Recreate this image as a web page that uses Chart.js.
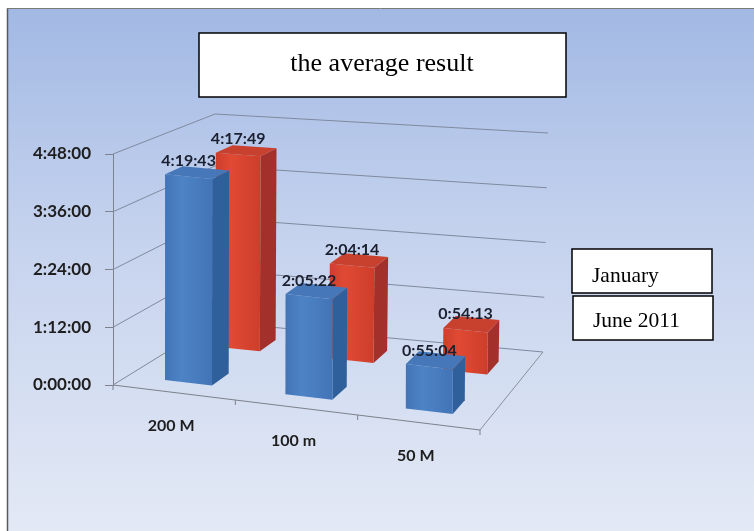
<!DOCTYPE html>
<html>
<head>
<meta charset="utf-8">
<script src="https://cdn.jsdelivr.net/npm/chart.js@4.4.1/dist/chart.umd.min.js"></script>
<style>
  html, body { margin: 0; padding: 0; background: #ffffff; overflow: hidden; }
  canvas { display: block; }
</style>
</head>
<body>
<canvas id="chart" width="754" height="531"></canvas>
<script>
// Swim distances and the average times per session (h:mm:ss)
const distances = ['200 M', '100 m', '50 M'];
const januaryTimes = ['4:19:43', '2:05:22', '0:55:04'];
const juneTimes = ['4:17:49', '2:04:14', '0:54:13'];
const seriesNames = ['January', 'June 2011'];
const chartTitle = 'the average result';
const axisMaxTime = '4:48:00';
const axisStepTime = '1:12:00';

function toSeconds(t) {
  const [h, m, s] = t.split(':').map(Number);
  return h * 3600 + m * 60 + s;
}
function toClock(v) {
  v = Math.round(v);
  const h = Math.floor(v / 3600), m = Math.floor((v % 3600) / 60), s = v % 60;
  return h + ':' + String(m).padStart(2, '0') + ':' + String(s).padStart(2, '0');
}

const januarySeconds = januaryTimes.map(toSeconds);
const juneSeconds = juneTimes.map(toSeconds);

const BOLD = '"Lato", "Open Sans", sans-serif';
const SERIF = '"Liberation Serif", "DejaVu Serif", serif';

// Perspective box: corners expressed relative to the flat chart area.
function boxCorners(a) {
  const L = a.left, R = a.right, T = a.top, B = a.bottom;
  return {
    FL: [L, B],        FLt: [L, T],
    FR: [R, B + 45],   FRt: [R, T + 40],
    BL: [L + 102, B - 63], BLt: [L + 102, T - 40],
    BR: [R + 63, B - 33],  BRt: [R + 68, T - 21]
  };
}
function lerp(p, q, t) { return [p[0] + (q[0] - p[0]) * t, p[1] + (q[1] - p[1]) * t]; }
// u: along categories (0..1), w: depth (0 front .. 1 back), v: value fraction (0..1)
function project(c, u, w, v) {
  const bf = lerp(c.FL, c.FR, u), bb = lerp(c.BL, c.BR, u);
  const tf = lerp(c.FLt, c.FRt, u), tb = lerp(c.BLt, c.BRt, u);
  const b = lerp(bf, bb, w), t = lerp(tf, tb, w);
  return lerp(b, t, v);
}
function poly(ctx, pts, fill) {
  ctx.beginPath();
  ctx.moveTo(pts[0][0], pts[0][1]);
  for (let i = 1; i < pts.length; i++) ctx.lineTo(pts[i][0], pts[i][1]);
  ctx.closePath();
  ctx.fillStyle = fill;
  ctx.fill();
}
function line(ctx, p, q, color, width) {
  ctx.beginPath();
  ctx.moveTo(p[0], p[1]);
  ctx.lineTo(q[0], q[1]);
  ctx.strokeStyle = color;
  ctx.lineWidth = width || 1;
  ctx.stroke();
}

// Row depth and shading of each series inside the box
const rows = [
  { w0: 0.15, w1: 0.33, front: ['#4d84c6', '#4274b6'], side: '#30609c', top: '#4677b8' },   // January
  { w0: 0.665, w1: 0.835, front: ['#e04a34', '#cd3e2a'], side: '#a3302a', top: '#c8402e' }  // June 2011
];

const depthPlugin = {
  id: 'depth3d',
  beforeDraw(chart) {
    const ctx = chart.ctx, W = chart.width, H = chart.height;
    ctx.save();
    ctx.fillStyle = '#ffffff';
    ctx.fillRect(0, 0, W, H);
    const g = ctx.createLinearGradient(0, 9, 0, H);
    g.addColorStop(0, '#a2b9e4');
    g.addColorStop(0.45, '#c6d3ee');
    g.addColorStop(1, '#e3e9f5');
    ctx.fillStyle = g;
    ctx.fillRect(8, 9, W - 8, H - 9);
    line(ctx, [7.5, 8], [7.5, H], '#5a5a5a', 1.5);
    line(ctx, [7, 8.5], [W, 8.5], '#7a7a7a', 1);
    ctx.restore();
  },
  beforeDatasetsDraw(chart) {
    const ctx = chart.ctx, a = chart.chartArea, y = chart.scales.y;
    const c = boxCorners(a);
    const span = a.bottom - a.top;
    ctx.save();
    // walls: gridlines on the left side wall and the back wall
    y.ticks.forEach(t => {
      const v = (a.bottom - y.getPixelForValue(t.value)) / span;
      line(ctx, project(c, 0, 0, v), project(c, 0, 1, v), '#7f8a9e', 1);
      line(ctx, project(c, 0, 1, v), project(c, 1, 1, v), '#7f8a9e', 1);
    });
    // floor outline
    line(ctx, project(c, 1, 0, 0), project(c, 1, 1, 0), '#8a8f9a', 1);
    line(ctx, project(c, 0, 0, 0), project(c, 1, 0, 0), '#7d828c', 1.2);
    // category separators on the front edge
    for (let i = 0; i <= distances.length; i++) {
      const p = project(c, i / distances.length, 0, 0);
      line(ctx, p, [p[0], p[1] + 5], '#7d828c', 1);
    }
    ctx.restore();
  },
  afterDatasetsDraw(chart) {
    const ctx = chart.ctx, a = chart.chartArea, y = chart.scales.y;
    const c = boxCorners(a);
    const span = a.bottom - a.top, width = a.right - a.left;
    const labels = [];
    ctx.save();
    // back row first, then the front row
    [1, 0].forEach(di => {
      const meta = chart.getDatasetMeta(di);
      const row = rows[di];
      const values = chart.data.datasets[di].data;
      meta.data.forEach((bar, i) => {
        const u0 = (bar.x - bar.width / 2 - a.left) / width;
        const u1 = (bar.x + bar.width / 2 - a.left) / width;
        const v = (a.bottom - y.getPixelForValue(values[i])) / span;
        const f = [project(c, u0, row.w0, 0), project(c, u1, row.w0, 0), project(c, u1, row.w0, v), project(c, u0, row.w0, v)];
        const s = [project(c, u1, row.w0, 0), project(c, u1, row.w1, 0), project(c, u1, row.w1, v), project(c, u1, row.w0, v)];
        const tp = [project(c, u0, row.w0, v), project(c, u1, row.w0, v), project(c, u1, row.w1, v), project(c, u0, row.w1, v)];
        const g = ctx.createLinearGradient(f[0][0], 0, f[1][0], 0);
        g.addColorStop(0, row.front[1]);
        g.addColorStop(0.35, row.front[0]);
        g.addColorStop(1, row.front[1]);
        poly(ctx, s, row.side);
        poly(ctx, f, g);
        poly(ctx, tp, row.top);
        const mid = project(c, (u0 + u1) / 2, row.w0, v);
        labels.push({ x: mid[0], y: mid[1] - 16, text: toClock(values[i]) });
      });
    });
    // value labels
    ctx.font = 'bold 16px ' + BOLD;
    ctx.fillStyle = '#1b2030';
    ctx.textAlign = 'center';
    ctx.textBaseline = 'middle';
    labels.forEach(l => ctx.fillText(l.text, l.x, l.y));
    // category labels under the front edge
    ctx.font = 'bold 16px ' + BOLD;
    ctx.fillStyle = '#1e1e1e';
    chart.scales.x.ticks.forEach((t, i) => {
      const u = (chart.scales.x.getPixelForTick(i) - a.left) / width;
      const p = project(c, u, 0, 0);
      ctx.fillText(chart.data.labels[i], p[0] - 3, p[1] + 33);
    });
    ctx.restore();
  },
  afterDraw(chart) {
    const ctx = chart.ctx;
    ctx.save();
    // title panel
    ctx.fillStyle = '#ffffff';
    ctx.fillRect(199, 33, 367, 64);
    ctx.strokeStyle = '#000000';
    ctx.lineWidth = 1.5;
    ctx.strokeRect(199, 33, 367, 64);
    ctx.fillStyle = '#000000';
    ctx.font = '26px ' + SERIF;
    ctx.textAlign = 'center';
    ctx.textBaseline = 'alphabetic';
    ctx.fillText(chartTitle, 382, 71);
    // series key panels
    const keys = [
      { x: 572, y: 249, w: 140, h: 44, base: 282 },
      { x: 573, y: 296, w: 140, h: 44, base: 327 }
    ];
    ctx.font = '21.5px ' + SERIF;
    ctx.textAlign = 'left';
    keys.forEach((k, i) => {
      ctx.fillStyle = '#ffffff';
      ctx.fillRect(k.x, k.y, k.w, k.h);
      ctx.save();
      ctx.beginPath();
      ctx.rect(k.x, k.y, k.w, k.h);
      ctx.clip();
      ctx.fillStyle = '#000000';
      ctx.fillText(chart.data.datasets[i].label, k.x + 20, k.base);
      ctx.restore();
      ctx.strokeStyle = '#000000';
      ctx.lineWidth = 1.5;
      ctx.strokeRect(k.x, k.y, k.w, k.h);
    });
    ctx.restore();
  }
};

new Chart(document.getElementById('chart'), {
  type: 'bar',
  data: {
    labels: distances,
    datasets: [
      { label: seriesNames[0], data: januarySeconds, backgroundColor: 'rgba(0,0,0,0)', borderWidth: 0 },
      { label: seriesNames[1], data: juneSeconds, backgroundColor: 'rgba(0,0,0,0)', borderWidth: 0 }
    ]
  },
  options: {
    responsive: false,
    animation: false,
    devicePixelRatio: 1,
    layout: { padding: { top: 154, bottom: 146, left: 0, right: 274 } },
    datasets: { bar: { grouped: false, categoryPercentage: 1, barPercentage: 0.39 } },
    plugins: { legend: { display: false }, tooltip: { enabled: false }, title: { display: false } },
    scales: {
      x: { display: false, offset: true },
      y: {
        min: 0,
        max: toSeconds(axisMaxTime),
        afterFit(scale) { scale.width = 113; },
        ticks: {
          stepSize: toSeconds(axisStepTime),
          padding: 14,
          color: '#1e1e1e',
          font: { family: BOLD, size: 17, weight: 'bold' },
          callback: v => toClock(v)
        },
        grid: { drawOnChartArea: false, drawTicks: true, tickLength: 8, color: '#7d828c' },
        border: { display: true, color: '#7d828c', width: 1 }
      }
    }
  },
  plugins: [depthPlugin]
});
</script>
</body>
</html>
